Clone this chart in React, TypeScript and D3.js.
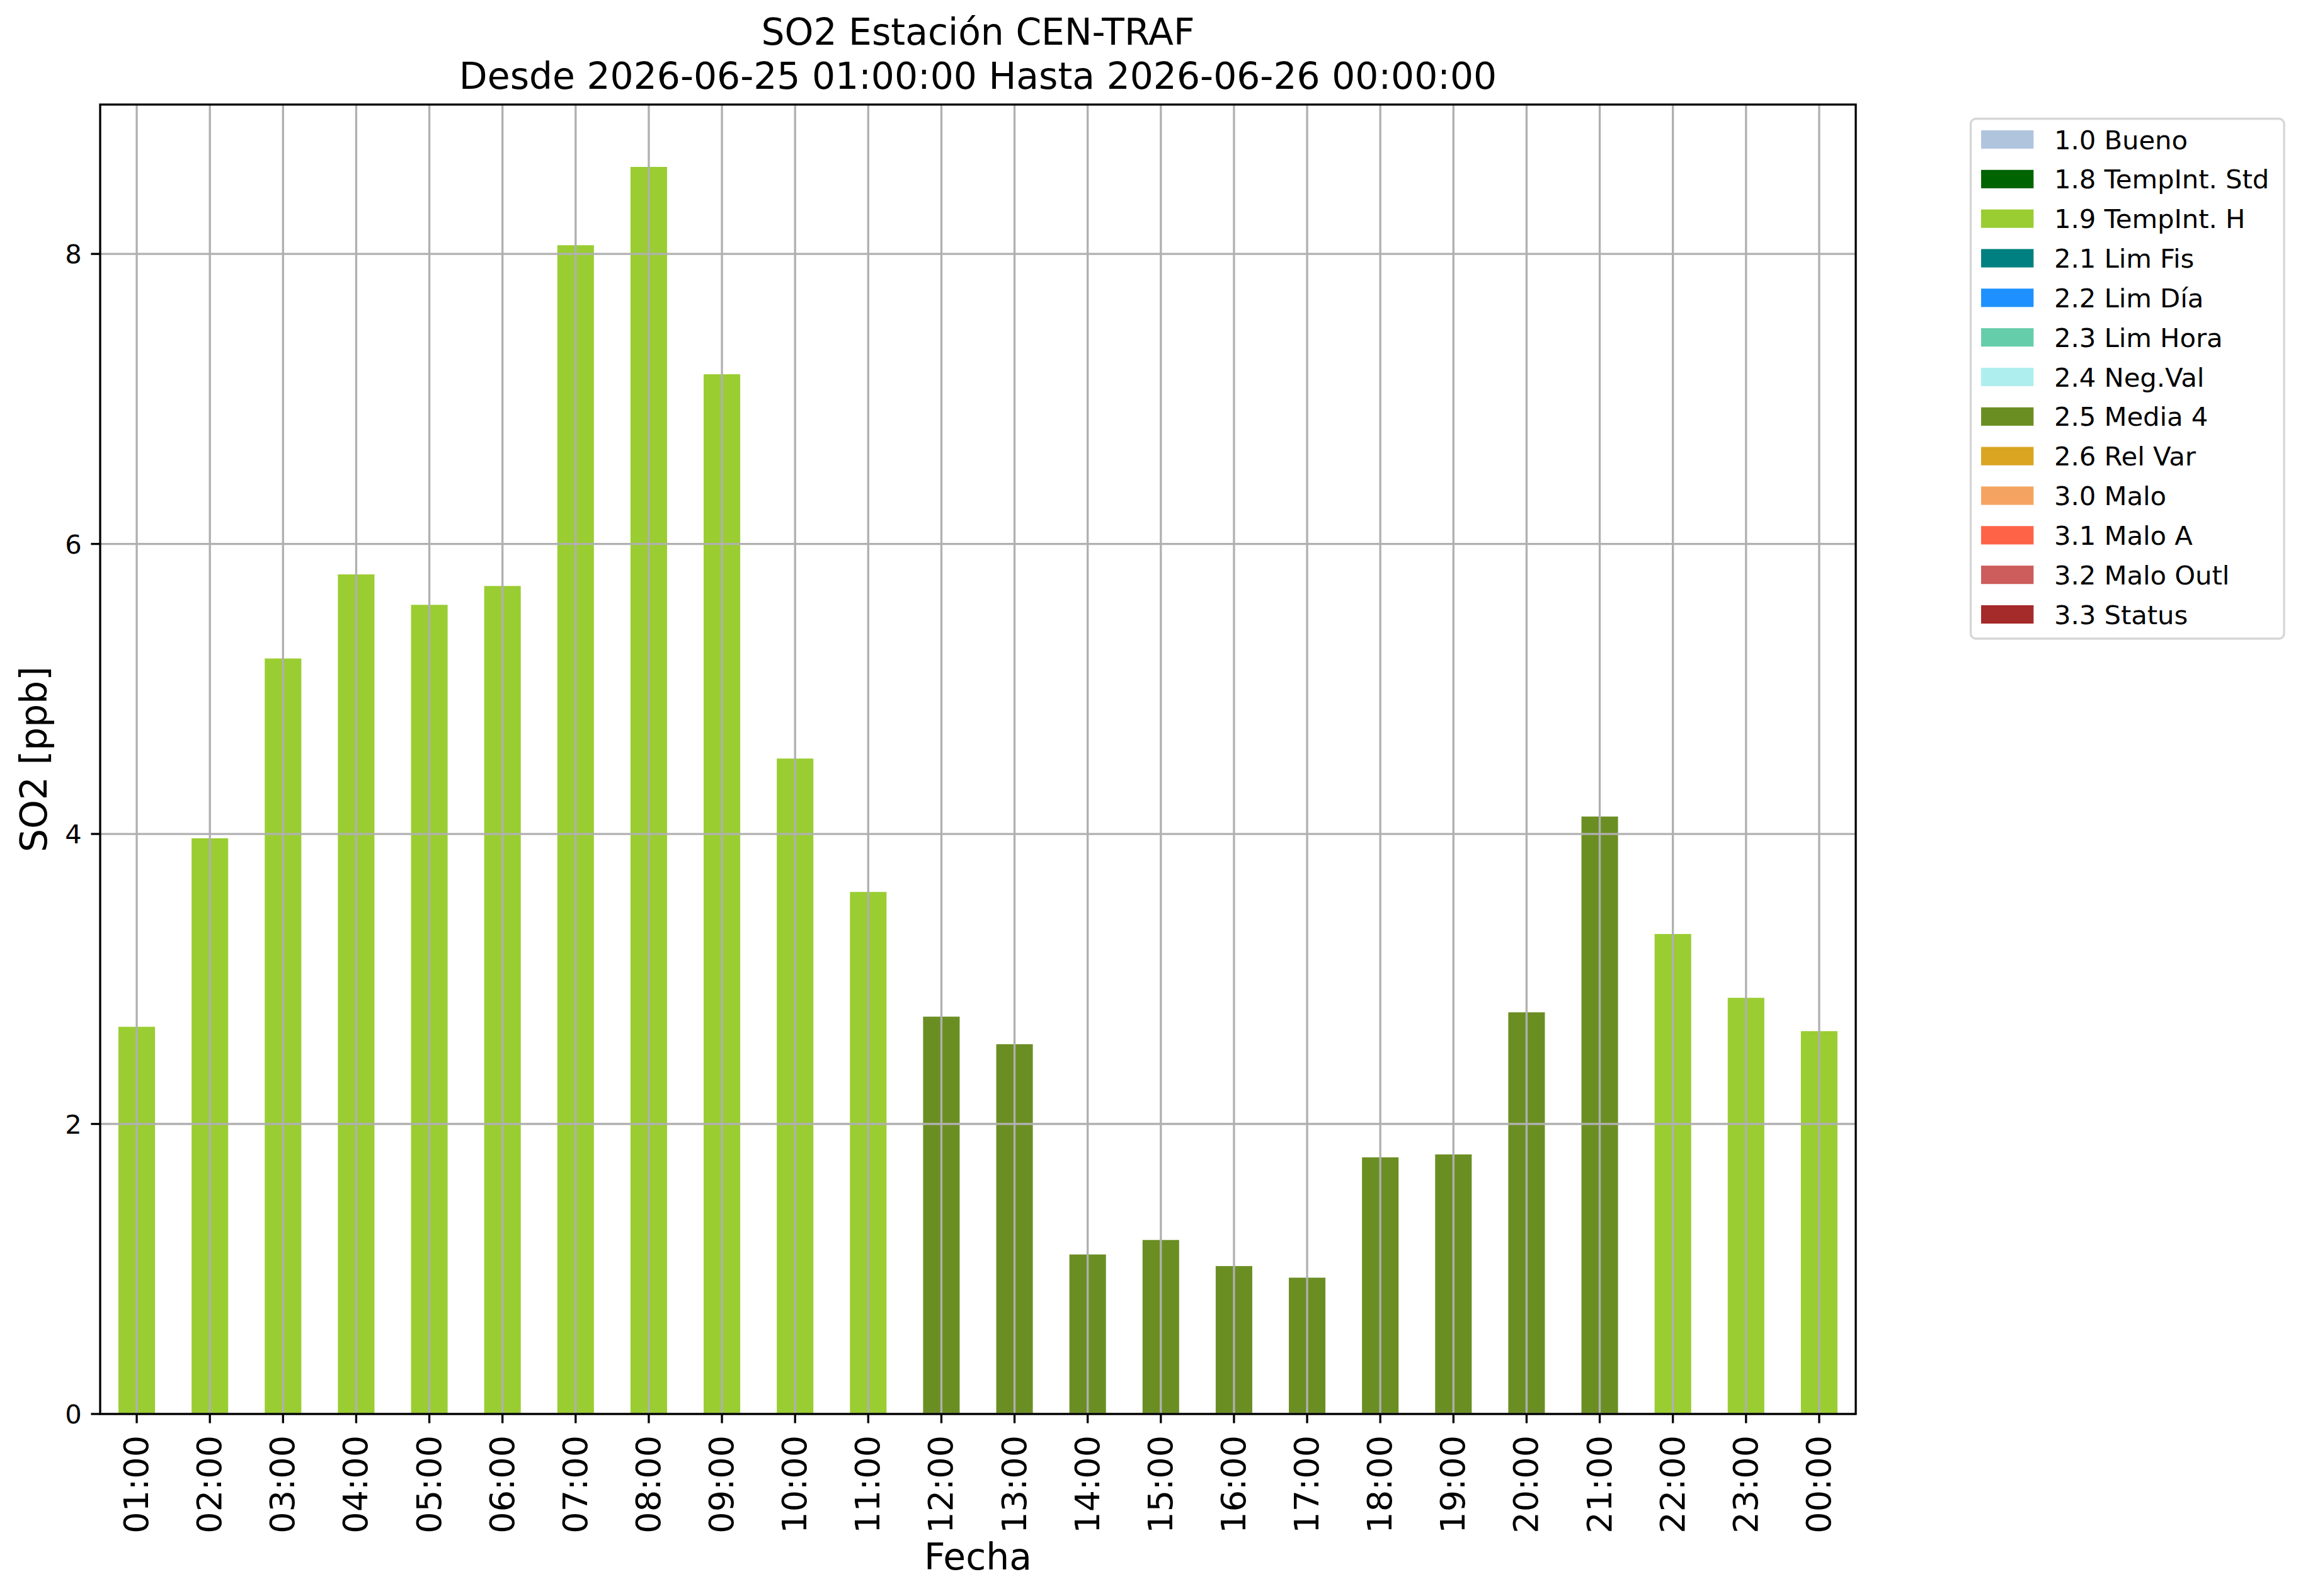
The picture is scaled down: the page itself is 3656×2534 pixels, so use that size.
// App.tsx
import React, { useEffect, useRef } from 'react';
import * as d3 from 'd3';

const hours = [
  '01:00', '02:00', '03:00', '04:00', '05:00', '06:00', '07:00', '08:00',
  '09:00', '10:00', '11:00', '12:00', '13:00', '14:00', '15:00', '16:00',
  '17:00', '18:00', '19:00', '20:00', '21:00', '22:00', '23:00', '00:00',
];

const so2Values = [
  2.67, 3.97, 5.21, 5.79, 5.58, 5.71, 8.06, 8.6, 7.17, 4.52, 3.6, 2.74,
  2.55, 1.1, 1.2, 1.02, 0.94, 1.77, 1.79, 2.77, 4.12, 3.31, 2.87, 2.64,
];

// validation flag for every hour
const flags = [
  '1.9', '1.9', '1.9', '1.9', '1.9', '1.9', '1.9', '1.9', '1.9', '1.9', '1.9',
  '2.5', '2.5', '2.5', '2.5', '2.5', '2.5', '2.5', '2.5', '2.5', '2.5',
  '1.9', '1.9', '1.9',
];

const legendLabels = [
  '1.0 Bueno', '1.8 TempInt. Std', '1.9 TempInt. H', '2.1 Lim Fis',
  '2.2 Lim Día', '2.3 Lim Hora', '2.4 Neg.Val', '2.5 Media 4', '2.6 Rel Var',
  '3.0 Malo', '3.1 Malo A', '3.2 Malo Outl', '3.3 Status',
];

const legendColors = [
  '#B0C4DE', '#006400', '#9ACD32', '#008080', '#1E90FF', '#66CDAA',
  '#AFEEEE', '#6B8E23', '#DAA520', '#F4A460', '#FF6347', '#CD5C5C', '#A52A2A',
];

const yTicks = [0, 2, 4, 6, 8];

const App: React.FC = () => {
  const chartRef = useRef<SVGSVGElement>(null);

  useEffect(() => {
    if (!chartRef.current) return;

    const W = 3656;
    const H = 2534;
    const margin = { top: 166, right: 710, bottom: 289, left: 159 };
    const lw = 3.33; // 0.8pt at 300 dpi
    const tickLen = 14.6;
    const font = "'DejaVu Sans', sans-serif";

    const svg = d3.select(chartRef.current);
    svg.selectAll('*').remove();
    svg.attr('width', W).attr('height', H);

    svg.append('rect').attr('width', W).attr('height', H).attr('fill', '#ffffff');

    const x0 = margin.left;
    const x1 = W - margin.right;
    const y0 = H - margin.bottom;
    const y1 = margin.top;

    const x = d3
      .scaleBand<string>()
      .domain(hours)
      .range([x0, x1])
      .paddingInner(0.5)
      .paddingOuter(0.25);

    const y = d3
      .scaleLinear()
      .domain([0, (d3.max(so2Values) as number) * 1.05])
      .range([y0, y1]);

    const colorOf = (flag: string) =>
      legendColors[legendLabels.findIndex((l) => l.startsWith(flag))];

    // bars
    svg
      .append('g')
      .selectAll('rect')
      .data(so2Values)
      .join('rect')
      .attr('x', (_, i) => x(hours[i]) as number)
      .attr('width', x.bandwidth())
      .attr('y', (d) => y(d))
      .attr('height', (d) => y0 - y(d))
      .attr('fill', (_, i) => colorOf(flags[i]));

    // grid (drawn above bars like matplotlib)
    const grid = svg.append('g').attr('stroke', '#b0b0b0').attr('stroke-width', lw);
    hours.forEach((h) => {
      const cx = (x(h) as number) + x.bandwidth() / 2;
      grid.append('line').attr('x1', cx).attr('x2', cx).attr('y1', y1).attr('y2', y0);
    });
    yTicks.forEach((t) => {
      grid.append('line').attr('x1', x0).attr('x2', x1).attr('y1', y(t)).attr('y2', y(t));
    });

    // spines
    svg
      .append('rect')
      .attr('x', x0)
      .attr('y', y1)
      .attr('width', x1 - x0)
      .attr('height', y0 - y1)
      .attr('fill', 'none')
      .attr('stroke', '#000')
      .attr('stroke-width', lw);

    // x ticks + rotated labels
    const xAxis = svg.append('g');
    hours.forEach((h) => {
      const cx = (x(h) as number) + x.bandwidth() / 2;
      xAxis
        .append('line')
        .attr('x1', cx)
        .attr('x2', cx)
        .attr('y1', y0)
        .attr('y2', y0 + tickLen)
        .attr('stroke', '#000')
        .attr('stroke-width', lw);
      xAxis
        .append('text')
        .attr('transform', `translate(${cx + 18},${y0 + 34}) rotate(-90)`)
        .attr('text-anchor', 'end')
        .attr('font-family', font)
        .attr('font-size', 54)
        .attr('fill', '#000')
        .text(h);
    });

    // y ticks
    const yAxis = svg.append('g');
    yTicks.forEach((t) => {
      yAxis
        .append('line')
        .attr('x1', x0 - tickLen)
        .attr('x2', x0)
        .attr('y1', y(t))
        .attr('y2', y(t))
        .attr('stroke', '#000')
        .attr('stroke-width', lw);
      yAxis
        .append('text')
        .attr('x', x0 - 2 * tickLen)
        .attr('y', y(t) + 15)
        .attr('text-anchor', 'end')
        .attr('font-family', font)
        .attr('font-size', 41.67)
        .attr('fill', '#000')
        .text(String(t));
    });

    const cxAxes = (x0 + x1) / 2;

    // title
    const title = svg
      .append('text')
      .attr('text-anchor', 'middle')
      .attr('font-family', font)
      .attr('font-size', 58.33)
      .attr('fill', '#000');
    title.append('tspan').attr('x', cxAxes).attr('y', 71).text('SO2 Estación CEN-TRAF');
    title
      .append('tspan')
      .attr('x', cxAxes)
      .attr('y', 141)
      .text('Desde 2026-06-25 01:00:00 Hasta 2026-06-26 00:00:00');

    // axis labels
    svg
      .append('text')
      .attr('x', cxAxes)
      .attr('y', 2492)
      .attr('text-anchor', 'middle')
      .attr('font-family', font)
      .attr('font-size', 58.33)
      .text('Fecha');

    svg
      .append('text')
      .attr('transform', `translate(74,${(y0 + y1) / 2}) rotate(-90)`)
      .attr('text-anchor', 'middle')
      .attr('font-family', font)
      .attr('font-size', 58.33)
      .text('SO2 [ppb]');

    // legend
    const legend = svg.append('g');
    legend
      .append('rect')
      .attr('x', 3128.5)
      .attr('y', 188.5)
      .attr('width', 497.5)
      .attr('height', 825.5)
      .attr('rx', 8.3)
      .attr('fill', '#ffffff')
      .attr('stroke', '#d6d6d6')
      .attr('stroke-width', lw);

    const rowY = d3
      .scaleLinear()
      .domain([0, legendLabels.length - 1])
      .range([221.5, 975.5]);

    legendLabels.forEach((label, i) => {
      legend
        .append('rect')
        .attr('x', 3145)
        .attr('y', rowY(i) - 14.6)
        .attr('width', 83.3)
        .attr('height', 29.2)
        .attr('fill', legendColors[i]);
      legend
        .append('text')
        .attr('x', 3261)
        .attr('y', rowY(i) + 15)
        .attr('font-family', font)
        .attr('font-size', 41.67)
        .attr('fill', '#000')
        .text(label);
    });
  }, []);

  return (
    <svg
      ref={chartRef}
      style={{ position: 'absolute', left: 0, top: 0, display: 'block' }}
    ></svg>
  );
};

export default App;
